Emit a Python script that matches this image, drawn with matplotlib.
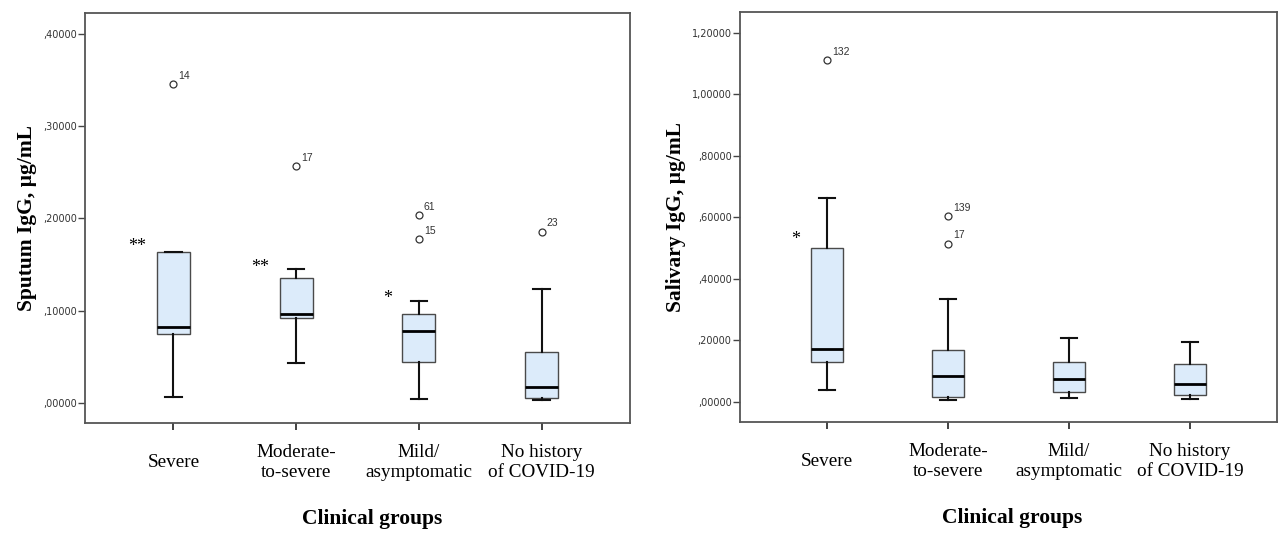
import matplotlib
matplotlib.use('Agg')
import matplotlib.pyplot as plt
from matplotlib.ticker import FuncFormatter

# Grupos clínicos
categories = ['Severe', 'Moderate-\nto-severe', 'Mild/\nasymptomatic', 'No history\nof COVID-19']

# Sputum IgG (painel esquerdo)
sputum_whislo = [0.0071, 0.0440, 0.0047, 0.0032]
sputum_q1 = [0.0747, 0.0920, 0.0444, 0.0060]
sputum_med = [0.0822, 0.0963, 0.0782, 0.0180]
sputum_q3 = [0.1634, 0.1359, 0.0966, 0.0559]
sputum_whishi = [0.1634, 0.1450, 0.1107, 0.1240]
sputum_fliers = [[0.345], [0.257], [0.2038, 0.1778], [0.1857]]
sputum_flier_ids = [['14'], ['17'], ['61', '15'], ['23']]
sputum_stars = ['**', '**', '*', '']
sputum_star_y = [0.170, 0.147, 0.113, 0]

# Salivary IgG (painel direito)
saliva_whislo = [0.038, 0.0065, 0.012, 0.0088]
saliva_q1 = [0.128, 0.015, 0.0306, 0.0208]
saliva_med = [0.172, 0.0836, 0.0728, 0.0566]
saliva_q3 = [0.499, 0.169, 0.129, 0.1216]
saliva_whishi = [0.663, 0.334, 0.208, 0.195]
saliva_fliers = [[1.110], [0.604, 0.514], [], []]
saliva_flier_ids = [['132'], ['139', '17'], [], []]
saliva_stars = ['*', '', '', '']
saliva_star_y = [0.527, 0, 0, 0]

sputum_ticks = [0.0, 0.1, 0.2, 0.3, 0.4]
saliva_ticks = [0.0, 0.2, 0.4, 0.6, 0.8, 1.0, 1.2]


def fmt(v, pos):
    s = f"{v:.5f}".replace('.', ',')
    if s.startswith('0,'):
        s = s[1:]
    return s


def draw_panel(ax, whislo, q1, med, q3, whishi, fliers, ids, stars, star_y,
               ticks, ylim, ylabel, yrange, xlab_x):
    stats = []
    for i in range(len(categories)):
        stats.append(dict(whislo=whislo[i], q1=q1[i], med=med[i], q3=q3[i],
                          whishi=whishi[i], fliers=fliers[i]))
    pos = list(range(1, len(categories) + 1))
    ax.bxp(stats, positions=pos, widths=0.27, patch_artist=True,
           boxprops=dict(facecolor='#dcebfa', edgecolor='#4a4a4a', linewidth=1.0),
           medianprops=dict(color='black', linewidth=2.0),
           whiskerprops=dict(color='#111111', linewidth=1.5),
           capprops=dict(color='#111111', linewidth=1.5),
           flierprops=dict(marker='o', markersize=5, markerfacecolor='none',
                           markeredgecolor='#333333', markeredgewidth=0.9))
    dy = yrange * 0.008
    for i in range(len(categories)):
        for v, lab in zip(fliers[i], ids[i]):
            ax.text(pos[i] + 0.04, v + dy, lab, fontsize=7.5, family='Liberation Sans',
                    color='#333333', ha='left', va='bottom')
        if stars[i]:
            ax.text(pos[i] - 0.22, star_y[i], stars[i], fontsize=13,
                    family='Liberation Serif', ha='right', va='center')
    ax.set_xlim(0.28, 4.72)
    ax.set_ylim(*ylim)
    ax.set_yticks(ticks)
    ax.yaxis.set_major_formatter(FuncFormatter(fmt))
    ax.set_xticks(pos)
    ax.set_xticklabels(categories, family='Liberation Serif', fontsize=13.8,
                       linespacing=1.2)
    for lab in ax.get_xticklabels():
        lab.set_va('center')
    ax.tick_params(axis='y', labelsize=7, labelcolor='#333333', length=5,
                   width=1.0, color='#444444', pad=1)
    ax.tick_params(axis='x', length=5, width=1.2, color='#222222', pad=23.5)
    for sp in ax.spines.values():
        sp.set_color('#555555')
        sp.set_linewidth(1.3)
    ax.set_ylabel(ylabel, family='Liberation Serif', fontsize=15.5, fontweight='bold')
    ax.set_xlabel('Clinical groups', family='Liberation Serif', fontsize=15.5,
                  fontweight='bold')
    ax.xaxis.set_label_coords(xlab_x, -0.21)


fig = plt.figure(figsize=(12.82, 5.34), dpi=100)
ax1 = fig.add_axes([0.0663, 0.2079, 0.4251, 0.7678])
ax2 = fig.add_axes([0.5772, 0.2103, 0.4189, 0.7667])

draw_panel(ax1, sputum_whislo, sputum_q1, sputum_med, sputum_q3, sputum_whishi,
           sputum_fliers, sputum_flier_ids, sputum_stars, sputum_star_y,
           sputum_ticks, (-0.0213, 0.4224), 'Sputum IgG, µg/mL', 0.44, 0.527)
draw_panel(ax2, saliva_whislo, saliva_q1, saliva_med, saliva_q3, saliva_whishi,
           saliva_fliers, saliva_flier_ids, saliva_stars, saliva_star_y,
           saliva_ticks, (-0.065, 1.266), 'Salivary IgG, µg/mL', 1.33, 0.506)

fig.savefig('out.png', dpi=100)
